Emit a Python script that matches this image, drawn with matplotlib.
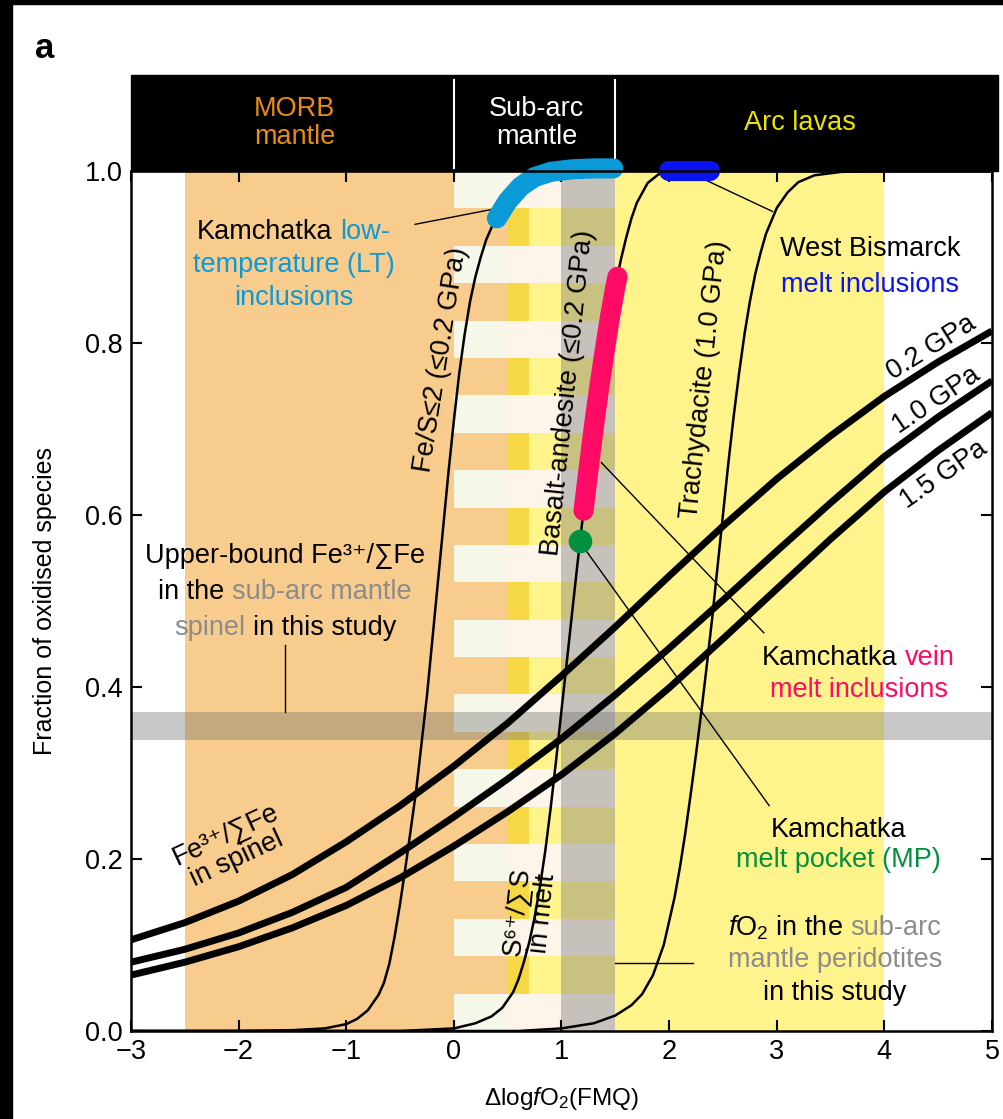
import matplotlib
matplotlib.use('Agg')
import matplotlib.pyplot as plt
from matplotlib.patches import Rectangle
from matplotlib.transforms import offset_copy, blended_transform_factory

plt.rcParams['font.family'] = ['Liberation Sans', 'DejaVu Sans']
plt.rcParams['mathtext.fontset'] = 'custom'
plt.rcParams['mathtext.rm'] = 'Liberation Sans'
plt.rcParams['mathtext.it'] = 'Liberation Sans:italic'
plt.rcParams['mathtext.bf'] = 'Liberation Sans:bold'

# ---- data ----
# Fe3+/sumFe in spinel at three pressures
spinel_x = [-3, -2.5, -2, -1.5, -1, -0.5, 0, 0.5, 1, 1.5, 2, 2.5, 3, 3.5, 4, 4.5, 5]
spinel_02 = [0.106, 0.126, 0.151, 0.182, 0.220, 0.262, 0.308, 0.358, 0.413, 0.470,
             0.529, 0.587, 0.642, 0.692, 0.738, 0.778, 0.814]
spinel_10 = [0.080, 0.095, 0.114, 0.138, 0.167, 0.207, 0.249, 0.293, 0.340, 0.391,
             0.445, 0.501, 0.558, 0.614, 0.668, 0.714, 0.756]
spinel_15 = [0.065, 0.080, 0.098, 0.120, 0.146, 0.178, 0.215, 0.255, 0.298, 0.346,
             0.399, 0.456, 0.514, 0.572, 0.627, 0.675, 0.719]
spinel_labels = ['0.2 GPa', '1.0 GPa', '1.5 GPa']

# S6+/sumS in melt
fes_x = [-3, -2, -1.5, -1.2, -1.0, -0.9, -0.8, -0.7, -0.65, -0.6, -0.55, -0.5, -0.45,
         -0.4, -0.35, -0.3, -0.25, -0.2, -0.15, -0.1, -0.05, 0.0, 0.05, 0.1, 0.15,
         0.2, 0.25, 0.3, 0.37, 0.45, 0.6, 0.8, 1.0, 1.3, 1.6, 5]
fes_y = [0, 0, 0.001, 0.003, 0.008, 0.014, 0.024, 0.042, 0.056, 0.078, 0.11, 0.148,
         0.19, 0.235, 0.28, 0.335, 0.39, 0.455, 0.52, 0.585, 0.65, 0.71, 0.765, 0.81,
         0.848, 0.877, 0.9, 0.92, 0.94, 0.955, 0.975, 0.988, 0.995, 0.999, 1.0, 1.0]
basalt_x = [-3, -0.5, 0.0, 0.2, 0.35, 0.45, 0.55, 0.6, 0.65, 0.7, 0.75, 0.8, 0.85, 0.9,
            0.95, 1.0, 1.05, 1.1, 1.15, 1.2, 1.25, 1.3, 1.35, 1.4, 1.45, 1.5, 1.55,
            1.6, 1.65, 1.7, 1.8, 1.9, 2.0, 2.2, 5]
basalt_y = [0, 0, 0.003, 0.009, 0.017, 0.027, 0.045, 0.06, 0.08, 0.103, 0.132, 0.168,
            0.21, 0.26, 0.315, 0.373, 0.43, 0.488, 0.545, 0.6, 0.652, 0.702, 0.748,
            0.79, 0.83, 0.865, 0.896, 0.922, 0.945, 0.963, 0.986, 0.996, 0.999, 1.0,
            1.0]
trachy_x = [-3, 0.6, 1.0, 1.3, 1.5, 1.65, 1.75, 1.85, 1.95, 2.05, 2.1, 2.15, 2.2, 2.25,
            2.3, 2.35, 2.4, 2.45, 2.5, 2.55, 2.6, 2.65, 2.7, 2.75, 2.8, 2.85, 2.9, 3.0,
            3.1, 3.2, 3.35, 3.6, 4.0, 5]
trachy_y = [0, 0, 0.003, 0.009, 0.018, 0.03, 0.043, 0.065, 0.1, 0.155, 0.19, 0.23,
            0.275, 0.322, 0.372, 0.425, 0.48, 0.54, 0.6, 0.66, 0.715, 0.765, 0.81,
            0.848, 0.88, 0.905, 0.927, 0.957, 0.975, 0.987, 0.995, 0.999, 1.0, 1.0]

# natural samples
lt_x = [0.40, 0.5, 0.62, 0.75, 0.9, 1.1, 1.3, 1.48]
lt_y = [0.945, 0.965, 0.982, 0.993, 0.999, 1.002, 1.003, 1.003]
vein_x = [1.205, 1.25, 1.3, 1.35, 1.4, 1.45, 1.5, 1.52]
vein_y = [0.605, 0.652, 0.702, 0.748, 0.79, 0.83, 0.865, 0.877]
wb_x = [2.0, 2.38]
wb_y = [1.0, 1.0]
mp_x = [1.17]
mp_y = [0.57]

# shaded fO2 ranges
morb_range = (-2.5, 0.5)
overlap_range = (0.5, 0.7)
arc_range = (0.7, 4.0)
subarc_range = (0.0, 1.5)
peridotite_range = (1.0, 1.5)
upper_fe3 = (0.338, 0.371)

header_text = ['MORB\nmantle', 'Sub-arc\nmantle', 'Arc lavas']
header_x = [-1.48, 0.77, 3.22]
header_col = ['#e88c14', 'white', '#ece400']
header_div = [0.0, 1.5]

C_ORANGE = '#f8cc8c'
C_GOLD = '#f6d844'
C_YELLOW = '#fff48c'
C_LT = '#0a9ad8'
C_VEIN = '#ff0a64'
C_WB = '#0a14f0'
C_MP = '#009040'
C_GREYTXT = '#8c8c8c'

fig = plt.figure(figsize=(10.04, 11.19), dpi=100)
ax = fig.add_axes([131/1004, 1-1031/1119, 861/1004, 860/1119])
ax.set_xlim(-3, 5)
ax.set_ylim(0, 1)

# figure border
fig.patches.append(Rectangle((0, 0), 12/1004, 1, transform=fig.transFigure,
                             color='black', zorder=-5))
fig.patches.append(Rectangle((0, 1-4/1119), 1, 4/1119, transform=fig.transFigure,
                             color='black', zorder=-5))

# background bands
ax.axvspan(*morb_range, color=C_ORANGE, lw=0, zorder=0)
ax.axvspan(*overlap_range, color=C_GOLD, lw=0, zorder=0)
ax.axvspan(*arc_range, color=C_YELLOW, lw=0, zorder=0)
n_stripes = 23
h = 1.0 / n_stripes
for k in range(0, n_stripes, 2):
    y0 = 1 - (k + 1) * h
    ax.add_patch(Rectangle((subarc_range[0], y0), overlap_range[0] - subarc_range[0], h,
                           color='#f5f7e8', lw=0, zorder=0.5))
    ax.add_patch(Rectangle((overlap_range[0], y0), subarc_range[1] - overlap_range[0], h,
                           color='#fdf4ea', lw=0, zorder=0.5))
ax.axvspan(*peridotite_range, color='#6c6c6c', alpha=0.37, lw=0, zorder=0.6)
ax.axhspan(*upper_fe3, color='#6c6c6c', alpha=0.37, lw=0, zorder=0.7)

# model curves
ax.plot(fes_x, fes_y, color='black', lw=1.8, zorder=2)
ax.plot(basalt_x, basalt_y, color='black', lw=1.8, zorder=2)
ax.plot(trachy_x, trachy_y, color='black', lw=1.8, zorder=2)
for ys in (spinel_02, spinel_10, spinel_15):
    ax.plot(spinel_x, ys, color='black', lw=5, zorder=3, solid_capstyle='butt')

# pointer lines
pointers = [([-0.36, 0.34], [0.938, 0.955]),
            ([-1.57, -1.57], [0.449, 0.371]),
            ([2.33, 2.96], [0.99, 0.953]),
            ([1.37, 2.88], [0.661, 0.463]),
            ([1.22, 2.93], [0.56, 0.262]),
            ([1.5, 2.22], [0.079, 0.079])]
for px, py in pointers:
    ax.plot(px, py, color='black', lw=1.0, zorder=2.5)

# samples
ax.plot(lt_x, lt_y, color=C_LT, lw=14.5, solid_capstyle='round', zorder=4, clip_on=False)
ax.plot(vein_x, vein_y, color=C_VEIN, lw=14.5, solid_capstyle='round', zorder=4)
ax.plot(wb_x, wb_y, color=C_WB, lw=14.5, solid_capstyle='round', zorder=4, clip_on=False)
ax.plot(mp_x, mp_y, 'o', color=C_MP, ms=17, mec='none', zorder=4)

# header bar
ax.add_patch(Rectangle((0, 1), 1.007, 96/860, transform=ax.transAxes, color='black',
                       clip_on=False, zorder=3.5))
btr = blended_transform_factory(ax.transData, ax.transAxes)
for xd in header_div:
    ax.plot([xd, xd], [1.004, 1.106], transform=btr, color='white', lw=1.5,
            clip_on=False, zorder=3.6)
for s, xh, c in zip(header_text, header_x, header_col):
    ax.text(xh, 1.056, s, transform=btr, color=c, fontsize=19.5, ha='center',
            va='center', linespacing=1.1, zorder=3.7)

# axes styling
ax.set_xticks(range(-3, 6))
ax.set_yticks([0, 0.2, 0.4, 0.6, 0.8, 1.0])
ax.set_yticklabels(['0.0', '0.2', '0.4', '0.6', '0.8', '1.0'])
ax.tick_params(direction='in', length=8, width=1.5, labelsize=19.5, top=True, right=True,
               pad=6)
for sp in ax.spines.values():
    sp.set_linewidth(1.8)
    sp.set_zorder(5)
ax.set_xlabel('$\\Delta$log$f$O$_2$(FMQ)', fontsize=17.5, labelpad=14)
ax.set_ylabel('Fraction of oxidised species', fontsize=18, labelpad=20)
fig.text(45/1004, 1-48/1119, 'a', fontsize=25, fontweight='bold', ha='center',
         va='center')

FS = 19.5
renderer = fig.canvas.get_renderer()


def text_width(s):
    t = ax.text(0, 0, s, fontsize=FS)
    w = t.get_window_extent(renderer).width
    t.remove()
    return w


space_w = text_width('x x') - text_width('xx')


def colored_line(x, y, parts):
    widths = [text_width(s) for s, c in parts]
    total = sum(widths) + space_w * (len(parts) - 1)
    start = -total / 2
    for (s, c), w in zip(parts, widths):
        tr = offset_copy(ax.transData, fig=fig, x=start, y=0, units='dots')
        ax.text(x, y, s, color=c, fontsize=FS, ha='left', va='center', transform=tr,
                zorder=6)
        start += w + space_w


K = 'black'
colored_line(-1.49, 0.929, [('Kamchatka', K), ('low-', C_LT)])
colored_line(-1.49, 0.891, [('temperature (LT)', C_LT)])
colored_line(-1.49, 0.852, [('inclusions', C_LT)])

colored_line(-1.57, 0.552, [('Upper-bound Fe³⁺/∑Fe', K)])
colored_line(-1.57, 0.511, [('in the', K), ('sub-arc mantle', C_GREYTXT)])
colored_line(-1.57, 0.469, [('spinel', C_GREYTXT), ('in this study', K)])

colored_line(3.87, 0.909, [('West Bismarck', K)])
colored_line(3.87, 0.868, [('melt inclusions', C_WB)])

colored_line(3.76, 0.434, [('Kamchatka', K), ('vein', C_VEIN)])
colored_line(3.76, 0.397, [('melt inclusions', C_VEIN)])

colored_line(3.57, 0.234, [('Kamchatka', K)])
colored_line(3.57, 0.199, [('melt pocket (MP)', C_MP)])

colored_line(3.54, 0.120, [('$f$O$_2$ in the', K), ('sub-arc', C_GREYTXT)])
colored_line(3.54, 0.083, [('mantle peridotites', C_GREYTXT)])
colored_line(3.54, 0.044, [('in this study', K)])

# labels on curves
ax.text(-0.12, 0.78, 'Fe/S≤2 (≤0.2 GPa)', rotation=81, fontsize=FS, ha='center',
        va='center', rotation_mode='anchor', zorder=6)
ax.text(1.06, 0.742, 'Basalt-andesite (≤0.2 GPa)', rotation=84, fontsize=FS,
        ha='center', va='center', rotation_mode='anchor', zorder=6)
ax.text(2.33, 0.758, 'Trachydacite (1.0 GPa)', rotation=84, fontsize=FS, ha='center',
        va='center', rotation_mode='anchor', zorder=6)
ax.text(0.71, 0.138, 'S⁶⁺/∑S\nin melt', rotation=84, fontsize=FS, ha='center',
        va='center', rotation_mode='anchor', linespacing=0.95, zorder=6)
ax.text(-2.07, 0.214, 'Fe³⁺/∑Fe\nin spinel', rotation=25, fontsize=FS,
        ha='center', va='center', rotation_mode='anchor', linespacing=1.0, zorder=6)
label_pos = [(4.44, 0.795, 32), (4.48, 0.733, 34), (4.55, 0.647, 35)]
for s, (lx, ly, rot) in zip(spinel_labels, label_pos):
    ax.text(lx, ly, s, rotation=rot, fontsize=FS, ha='center', va='center',
            rotation_mode='anchor', zorder=6)

fig.savefig('out.png', dpi=100, facecolor='white')
